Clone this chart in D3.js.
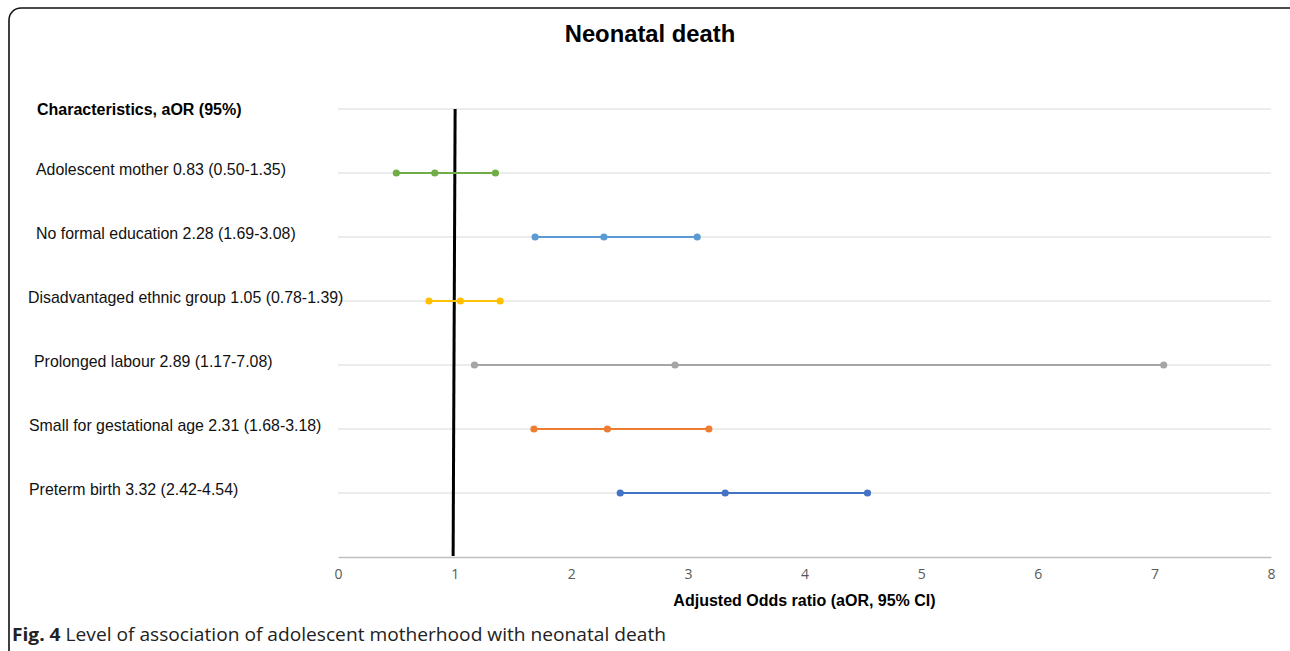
<!DOCTYPE html>
<html>
<head>
<meta charset="utf-8">
<script src="https://cdn.jsdelivr.net/npm/d3@7"></script>
<style>
  body { margin: 0; background: #fff; }
</style>
</head>
<body>
<div id="chart"></div>
<script>
// data
var labels = [
  "Adolescent mother 0.83 (0.50-1.35)",
  "No formal education 2.28 (1.69-3.08)",
  "Disadvantaged ethnic group 1.05 (0.78-1.39)",
  "Prolonged labour 2.89 (1.17-7.08)",
  "Small for gestational age 2.31 (1.68-3.18)",
  "Preterm birth 3.32 (2.42-4.54)"
];
var lower = [0.50, 1.69, 0.78, 1.17, 1.68, 2.42];
var aor   = [0.83, 2.28, 1.05, 2.89, 2.31, 3.32];
var upper = [1.35, 3.08, 1.39, 7.08, 3.18, 4.54];
var colors = ["#70ad47", "#5b9bd5", "#ffc000", "#a5a5a5", "#ed7d31", "#4472c4"];
var xTicks = [0, 1, 2, 3, 4, 5, 6, 7, 8];
var labelX = [36, 36, 28, 34, 29, 29];

var W = 1290, H = 651;

var svg = d3.select("#chart")
  .append("svg")
    .attr("width", W)
    .attr("height", H);

// frame round the figure
svg.append("rect")
    .attr("x", 9).attr("y", 8)
    .attr("width", 1300).attr("height", 700)
    .attr("rx", 12)
    .attr("fill", "none")
    .attr("stroke", "#111")
    .attr("stroke-width", 1.6);

// scales
var x = d3.scaleLinear()
    .domain([0, 8])
    .range([338, 1271]);

// row 0 is the header row, rows 1..6 the characteristics, row 7 the axis
var y = d3.scaleLinear()
    .domain([0, 7])
    .range([109, 557]);

// gridlines
svg.append("g")
  .selectAll("line")
  .data(d3.range(0, 7))
  .enter()
  .append("line")
    .attr("x1", x(0)).attr("x2", x(8))
    .attr("y1", function(d) { return y(d); })
    .attr("y2", function(d) { return y(d); })
    .attr("stroke", "#d9d9d9")
    .attr("stroke-width", 1);

// x axis
var xAxis = svg.append("g")
    .attr("transform", "translate(0," + y(7) + ")")
    .call(d3.axisBottom(x).tickValues(xTicks).tickSize(0).tickPadding(12).tickFormat(d3.format("d")));
xAxis.select(".domain").attr("stroke", "#bfbfbf").attr("stroke-width", 1.3);
xAxis.selectAll("text")
    .attr("fill", "#595959")
    .style("font-family", "'Open Sans', sans-serif")
    .style("font-size", "14px");

// reference line at 1
svg.append("line")
    .attr("x1", x(1) + 0.5).attr("x2", x(1) - 1.5)
    .attr("y1", y(0)).attr("y2", y(7) - 1)
    .attr("stroke", "#000")
    .attr("stroke-width", 3);

// CI lines
var rows = d3.range(labels.length);
svg.append("g")
  .selectAll("line")
  .data(rows)
  .enter()
  .append("line")
    .attr("x1", function(i) { return x(lower[i]); })
    .attr("x2", function(i) { return x(upper[i]); })
    .attr("y1", function(i) { return y(i + 1); })
    .attr("y2", function(i) { return y(i + 1); })
    .attr("stroke", function(i) { return colors[i]; })
    .attr("stroke-width", 2);

// dots
var pts = [];
rows.forEach(function(i) {
  pts.push({v: lower[i], r: i}, {v: aor[i], r: i}, {v: upper[i], r: i});
});
svg.append("g")
  .selectAll("circle")
  .data(pts)
  .enter()
  .append("circle")
    .attr("cx", function(d) { return x(d.v); })
    .attr("cy", function(d) { return y(d.r + 1); })
    .attr("r", 3.6)
    .attr("fill", function(d) { return colors[d.r]; });

// row labels
svg.append("text")
    .attr("x", 37).attr("y", y(0) + 6)
    .style("font-family", "'Liberation Sans', Arial, sans-serif")
    .style("font-size", "16px")
    .style("font-weight", "bold")
    .text("Characteristics, aOR (95%)");

svg.append("g")
  .selectAll("text")
  .data(rows)
  .enter()
  .append("text")
    .attr("x", function(i) { return labelX[i]; })
    .attr("y", function(i) { return y(i + 1) + 2; })
    .style("font-family", "'Liberation Sans', Arial, sans-serif")
    .style("font-size", "15.9px")
    .attr("fill", "#111")
    .text(function(i) { return labels[i]; });

// title
svg.append("text")
    .attr("x", 650).attr("y", 42)
    .attr("text-anchor", "middle")
    .style("font-family", "'Liberation Sans', Arial, sans-serif")
    .style("font-size", "23.8px")
    .style("font-weight", "bold")
    .text("Neonatal death");

// x axis label
svg.append("text")
    .attr("x", x(4)).attr("y", 606)
    .attr("text-anchor", "middle")
    .style("font-family", "'Liberation Sans', Arial, sans-serif")
    .style("font-size", "16px")
    .style("font-weight", "bold")
    .text("Adjusted Odds ratio (aOR, 95% CI)");

// caption
var cap = svg.append("text")
    .attr("x", 12).attr("y", 641)
    .attr("textLength", 654)
    .attr("lengthAdjust", "spacingAndGlyphs")
    .style("font-family", "'Open Sans', sans-serif")
    .style("font-size", "18px")
    .attr("fill", "#222");
cap.append("tspan").style("font-weight", "bold").text("Fig. 4");
cap.append("tspan").text(" Level of association of adolescent motherhood with neonatal death");
</script>
</body>
</html>
